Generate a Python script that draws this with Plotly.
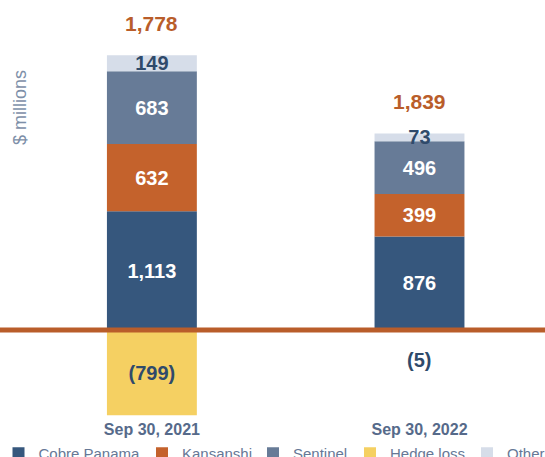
import plotly.graph_objects as go

# ---- data ----
categories = ["Sep 30, 2021", "Sep 30, 2022"]
cobre_panama = [1113, 876]
kansanshi = [632, 399]
sentinel = [683, 496]
other = [149, 73]
hedge_loss = [-799, -5]

# ---- style ----
C_COBRE = "#36577d"
C_KANS = "#c4622c"
C_SENT = "#677b97"
C_OTHER = "#d6dde9"
C_HEDGE = "#f5d062"
C_DARK = "#2f4a6b"
C_ORANGE = "#b95d2a"
C_AXIS = "#566a8a"
FONT = "Liberation Sans"

W = 545
H = 480          # figure taller than the window: the legend is cut at the window edge
PLOT_H = 418     # plot area height in px (top margin 0)


def fmt(v):
    return f"{v:,}" if v >= 0 else f"({abs(v):,})"


totals = [a + b + c + d + e for a, b, c, d, e in zip(cobre_panama, kansanshi, sentinel, other, hedge_loss)]
pos_tops = [a + b + c + d for a, b, c, d in zip(cobre_panama, kansanshi, sentinel, other)]

fig = go.Figure()

bar_width = 0.336

specs = [
    ("Cobre Panama", cobre_panama, C_COBRE, "white", "legend", [fmt(v) for v in cobre_panama]),
    ("Kansanshi", kansanshi, C_KANS, "white", "legend2", [fmt(v) for v in kansanshi]),
    ("Sentinel", sentinel, C_SENT, "white", "legend3", [fmt(v) for v in sentinel]),
    ("Other", other, C_OTHER, C_DARK, "legend5", [fmt(v) for v in other]),
    ("Hedge loss", hedge_loss, C_HEDGE, C_DARK, "legend4",
     [fmt(v) if abs(v) > 50 else "" for v in hedge_loss]),
]

for name, vals, color, tcolor, leg, texts in specs:
    fig.add_trace(go.Bar(
        x=categories, y=vals, name=name, legend=leg, showlegend=True,
        marker=dict(color=color, line=dict(width=0)),
        width=bar_width,
        text=texts, textposition="inside", insidetextanchor="middle",
        textfont=dict(family=FONT, size=20, color=tcolor, weight="bold"),
        hoverinfo="skip",
    ))

# totals above bars
for cat, top, tot in zip(categories, pos_tops, totals):
    fig.add_annotation(x=cat, y=top, text=f"{tot:,}", showarrow=False, yshift=32,
                       font=dict(family=FONT, size=21, color=C_ORANGE, weight="bold"))

# small hedge loss label below the zero line
for cat, v in zip(categories, hedge_loss):
    if abs(v) <= 50:
        fig.add_annotation(x=cat, y=v, text=fmt(v), showarrow=False, yshift=-29,
                           font=dict(family=FONT, size=20, color=C_DARK, weight="bold"))

# zero line
fig.add_shape(type="line", xref="paper", x0=0, x1=1, yref="y", y0=0, y1=0,
              line=dict(color=C_ORANGE, width=5), layer="above")

# y-axis title
fig.add_annotation(xref="paper", yref="paper", x=20 / W, y=1 - 108 / PLOT_H, text="$ millions",
                   textangle=-90, showarrow=False, xanchor="center", yanchor="middle",
                   font=dict(family=FONT, size=18, color="#7d8fa8"))

# legends (one per series, positioned like the reference)
text_starts = {"legend": 36.5, "legend2": 180, "legend3": 291, "legend4": 388, "legend5": 505}
leg_layout = {}
for key, tx in text_starts.items():
    leg_layout[key] = dict(
        x=(tx - 38) / W, xanchor="left", y=1 - 437 / PLOT_H, yanchor="top",
        orientation="h", bgcolor="rgba(0,0,0,0)", visible=True,
        font=dict(family=FONT, size=15, color="#667896"),
    )

fig.update_layout(
    width=W, height=H,
    showlegend=True,
    margin=dict(l=0, r=0, t=0, b=H - PLOT_H, autoexpand=False),
    barmode="relative",
    plot_bgcolor="white", paper_bgcolor="white",
    uniformtext=dict(minsize=20, mode="show"),
    xaxis=dict(type="category", range=[-0.5676, 1.469], showgrid=False, zeroline=False,
               showline=False, ticks="",
               tickfont=dict(family=FONT, size=16, color=C_AXIS, weight="bold")),
    yaxis=dict(range=[-825.5, 3095.7], showgrid=False, zeroline=False, showline=False,
               showticklabels=False, ticks=""),
    **leg_layout,
)

fig.write_html(
    "out.html",
    config={"displayModeBar": False},
    post_script=(
        "document.body.style.margin='0';"
        "document.body.style.overflow='hidden';"
        "document.documentElement.style.overflow='hidden';"
    ),
)
